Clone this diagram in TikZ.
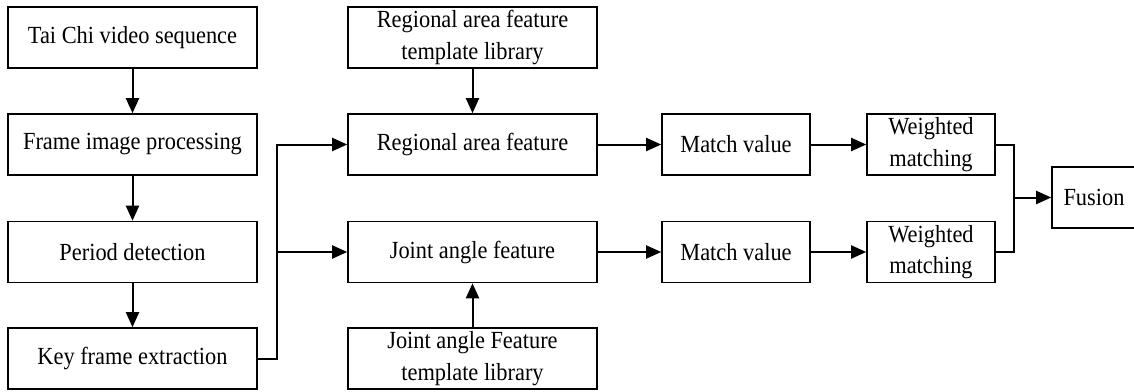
\documentclass[tikz,border=0pt]{standalone}
\usepackage{fontspec}
\setmainfont[FakeStretch=0.91]{Liberation Serif}
\usetikzlibrary{arrows.meta}

\begin{document}
\begin{tikzpicture}[x=0.5pt, y=-0.5pt,
        every node/.style={rectangle, draw, line width=0.8pt, align=center,
            inner sep=0pt, font=\fontsize{12.3}{15.8}\selectfont},
        blk/.style={minimum width=124.5pt, minimum height=30.5pt},
        val/.style={minimum width=74pt, minimum height=30.5pt},
        wgt/.style={minimum width=64pt, minimum height=30.5pt},
        arr/.style={-{Triangle[length=7.5pt,width=6.5pt]}, line width=1pt},
        lnk/.style={line width=1pt}]
        \useasboundingbox (0,0) rectangle (1134,391);

        % left column
        \node[blk] (A) at (132.5,37.5) {Tai Chi video sequence};
        \node[blk] (B) at (132.5,144.5) {Frame image processing};
        \node[blk] (C) at (132.5,252) {Period detection};
        \node[blk] (D) at (132.5,358.5) {Key frame extraction};

        % feature column
        \node[blk] (E) at (472.5,37.5) {Regional area feature\\template library};
        \node[blk] (F) at (472.5,144.5) {Regional area feature};
        \node[blk] (G) at (472.5,252) {Joint angle feature};
        \node[blk] (H) at (472.5,358.5) {Joint angle Feature\\template library};

        % matching
        \node[val] (I) at (736,144.5) {Match value};
        \node[val] (J) at (736,252) {Match value};
        \node[wgt] (K) at (931,144.5) {Weighted\\matching};
        \node[wgt] (L) at (931,252) {Weighted\\matching};
        \node[minimum width=42pt, minimum height=30.5pt] (M) at (1094,197.5) {Fusion};

        \coordinate (S) at (277,252);
        \coordinate (T) at (1014,197.5);

        \draw [arr] (A.south) to (B.north);
        \draw [arr] (B.south) to (C.north);
        \draw [arr] (C.south) to (D.north);
        \draw [lnk] (D.east) -| (S);
        \draw [arr] (S) |- (F.west);
        \draw [arr] (S) to (G.west);
        \draw [arr] (E.south) to (F.north);
        \draw [arr] (H.north) to (G.south);
        \draw [arr] (F.east) to (I.west);
        \draw [arr] (G.east) to (J.west);
        \draw [arr] (I.east) to (K.west);
        \draw [arr] (J.east) to (L.west);
        \draw [lnk] (K.east) -| (T);
        \draw [lnk] (L.east) -| (T);
        \draw [arr] (T) to (M.west);

    \end{tikzpicture}
\end{document}
